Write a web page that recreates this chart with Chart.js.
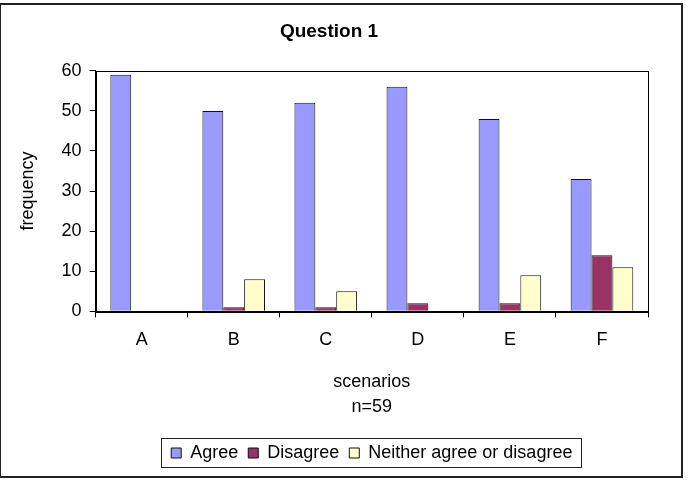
<!DOCTYPE html>
<html>
<head>
<meta charset="utf-8">
<script src="https://cdn.jsdelivr.net/npm/chart.js@4/dist/chart.umd.min.js"></script>
<style>
html,body{margin:0;padding:0;background:#fff;}
#wrap{width:689px;height:484px;position:relative;}
</style>
</head>
<body>
<div id="wrap"><canvas id="c" width="689" height="484"></canvas></div>
<script>
const categories = ["A","B","C","D","E","F"];
const agree = [59,50,52,56,48,33];
const disagree = [0,1,1,2,2,14];
const neither = [0,8,5,0,9,11];
const yTicks = [0,10,20,30,40,50,60];

const font = "'Liberation Sans', Arial, sans-serif";

const framePlugin = {
  id: 'frame',
  afterDraw(chart) {
    const ctx = chart.ctx;
    const a = chart.chartArea;
    ctx.save();
    ctx.strokeStyle = '#000';
    ctx.lineWidth = 1;
    ctx.strokeRect(Math.round(a.left)+0.5, Math.round(a.top)+0.5, Math.round(a.right-a.left), Math.round(a.bottom-a.top));
    const lg = chart.legend;
    if (lg && lg.legendHitBoxes && lg.legendHitBoxes.length) {
      let x0=Infinity,x1=-Infinity,y0=Infinity,y1=-Infinity;
      lg.legendHitBoxes.forEach(h=>{x0=Math.min(x0,h.left);x1=Math.max(x1,h.left+h.width);y0=Math.min(y0,h.top);y1=Math.max(y1,h.top+h.height);});
      ctx.strokeStyle = '#222';
      ctx.strokeRect(Math.round(x0-10)+0.5, Math.round(y0-6)+0.5, Math.round(x1-x0+19), Math.round(y1-y0+11));
    }
    ctx.strokeStyle = '#222';
    ctx.lineWidth = 2;
    ctx.strokeRect(0, 4, 682, 473);
    ctx.restore();
  }
};

const bw = c => (c.raw === 0 ? 0 : 1);

new Chart(document.getElementById('c'), {
  type: 'bar',
  data: {
    labels: categories,
    datasets: [
      {label:'Agree', data: agree, backgroundColor:'#9999FF', borderColor:'#111', borderWidth:bw},
      {label:'Disagree', data: disagree, backgroundColor:'#993366', borderColor:'#111', borderWidth:bw},
      {label:'Neither agree or disagree', data: neither, backgroundColor:'#FFFFCC', borderColor:'#111', borderWidth:bw}
    ]
  },
  options: {
    responsive: false,
    animation: false,
    devicePixelRatio: 1,
    layout: {padding: {left: 10, right: 41, top: 6, bottom: 12}},
    plugins: {
      title: {display:true, text:'Question 1', color:'#000', font:{family:font, size:19, weight:'bold'}, padding:{top:14, bottom:28}},
      legend: {
        position:'bottom',
        fullSize:false,
        labels:{color:'#000', font:{family:font, size:18}, boxWidth:10, boxHeight:10, padding:10,
          generateLabels(chart){
            return chart.data.datasets.map((d,i)=>({text:d.label, fillStyle:d.backgroundColor, strokeStyle:'#111', lineWidth:1, datasetIndex:i, fontColor:'#000', hidden:false}));
          }
        },
      },
      tooltip:{enabled:false}
    },
    datasets: {bar: {categoryPercentage: 0.68, barPercentage: 1.0}},
    scales: {
      x: {
        grid: {drawOnChartArea:false, color:'#000', tickLength:6, offset:true},
        border: {color:'#000'},
        ticks: {color:'#000', font:{family:font, size:18}, padding:12},
        title: {display:true, text:['scenarios','n=59'], color:'#000', font:{family:font, size:18, lineHeight:1.39}, padding:{top:7, bottom:14}}
      },
      y: {
        min:0, max:60,
        afterBuildTicks(axis){ axis.ticks = yTicks.map(v=>({value:v})); },
        grid: {drawOnChartArea:false, color:'#000', tickLength:6},
        border: {color:'#000'},
        ticks: {color:'#000', font:{family:font, size:18}, padding:8},
        title: {display:true, text:'frequency', color:'#000', font:{family:font, size:18}, padding:{top:7, bottom:15}}
      }
    }
  },
  plugins:[framePlugin]
});
</script>
</body>
</html>
